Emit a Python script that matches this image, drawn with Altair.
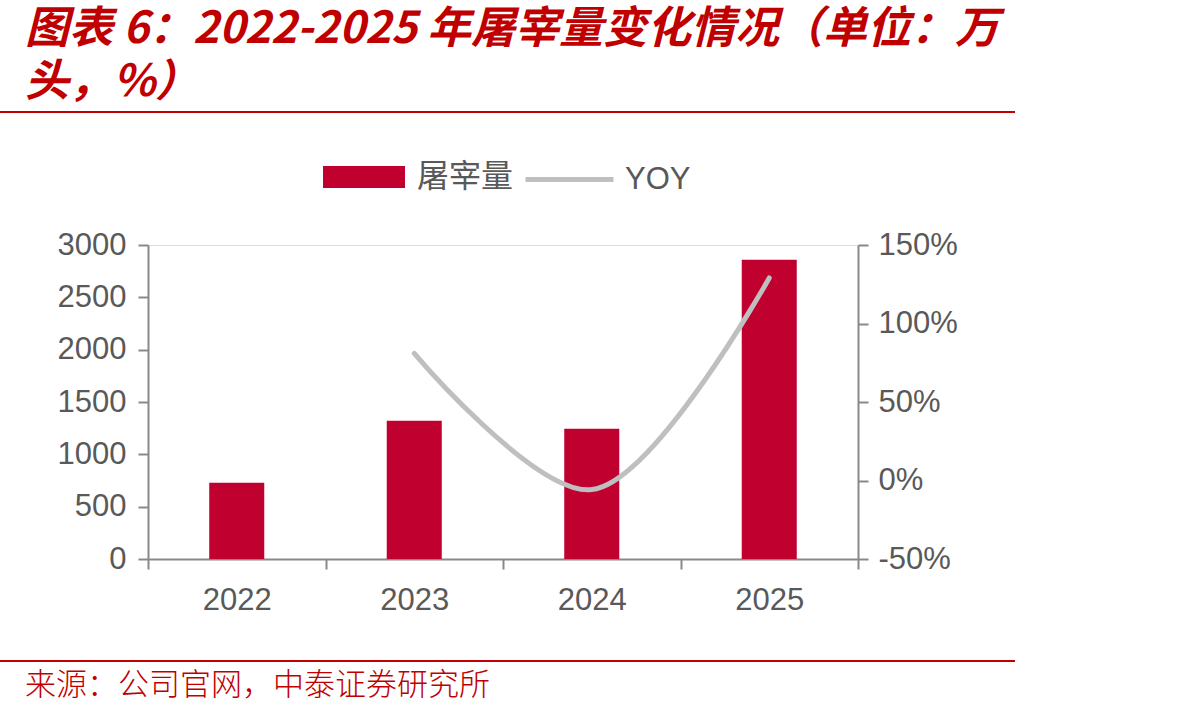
import altair as alt
import pandas as pd

years = ["2022", "2023", "2024", "2025"]
slaughter = [729, 1321, 1245, 2860]
yoy = [None, 0.81, -0.058, 1.29]

title_line1 = "图表 6：2022-2025 年屠宰量变化情况（单位：万"
title_line2 = "头，%）"
source_text = "来源：公司官网，中泰证券研究所"

RED = "#C00000"
BAR = "#C0002F"
GRAY_LINE = "#BFBFBF"
AXIS = "#898989"
LABEL = "#595959"
FONT = "Liberation Sans"
CJK = "Noto Sans CJK SC"
LFS = 31

df = pd.DataFrame({"year": years, "slaughter": slaughter, "yoy": yoy,
                   "s1": ["屠宰量"] * 4, "s2": ["YOY"] * 4})
df_line = df.dropna(subset=["yoy"])

xscale = alt.Scale(domain=years, paddingInner=0, paddingOuter=0)
xaxis = alt.Axis(title=None, tickBand="extent", tickSize=10, tickWidth=2, tickColor=AXIS,
                 domainColor=AXIS, domainWidth=2, labelFontSize=LFS, labelColor=LABEL,
                 labelFont=FONT, labelPadding=16, labelAngle=0)

bars = alt.Chart(df).mark_bar(width=alt.RelativeBandSize(0.31)).encode(
    x=alt.X("year:O", scale=xscale, axis=xaxis),
    y=alt.Y("slaughter:Q", scale=alt.Scale(domain=[0, 3000], nice=False),
            axis=alt.Axis(title=None, values=[0, 500, 1000, 1500, 2000, 2500, 3000], format="d",
                          tickSize=10, tickWidth=2, tickColor=AXIS, domainColor=AXIS,
                          domainWidth=2, labelFontSize=LFS, labelColor=LABEL, labelFont=FONT,
                          labelPadding=12, grid=False)),
    color=alt.Color("s1:N", scale=alt.Scale(domain=["屠宰量"], range=[BAR]),
                    legend=alt.Legend(orient="none", legendX=175, legendY=-109, title=None,
                                      symbolType="M-1,-0.27H1V0.27H-1Z", symbolSize=6724,
                                      symbolStrokeWidth=0, labelFontSize=32, labelColor=LABEL,
                                      labelFont=CJK, labelOffset=12, padding=0)),
)

line = alt.Chart(df_line).mark_line(interpolate="catmull-rom", strokeWidth=5, strokeCap="round").encode(
    x=alt.X("year:O", scale=xscale, axis=xaxis),
    y=alt.Y("yoy:Q", scale=alt.Scale(domain=[-0.5, 1.5], nice=False),
            axis=alt.Axis(title=None, orient="right", values=[-0.5, 0, 0.5, 1.0, 1.5],
                          labelExpr="(datum.value < 0 ? '-' : '') + format(abs(datum.value), '.0%')",
                          tickSize=10, tickWidth=2, tickColor=AXIS, domainColor=AXIS,
                          domainWidth=2, labelFontSize=LFS, labelColor=LABEL, labelFont=FONT,
                          labelPadding=10, grid=False)),
    stroke=alt.Stroke("s2:N", scale=alt.Scale(domain=["YOY"], range=[GRAY_LINE]),
                      legend=alt.Legend(orient="none", legendX=375, legendY=-112, title=None,
                                        symbolType="stroke", symbolSize=7744, symbolStrokeWidth=5,
                                        labelFontSize=LFS, labelColor=LABEL, labelFont=FONT,
                                        labelOffset=9, padding=0)),
)

main = alt.layer(bars, line).resolve_scale(y="independent")

one = pd.DataFrame({"t": [0]})
t1 = alt.Chart(pd.DataFrame({"t": [title_line1]})).mark_text(
    align="left", baseline="middle", font=CJK, fontSize=44, fontWeight="bold",
    fontStyle="italic", color=RED).encode(text="t:N", x=alt.value(-123), y=alt.value(-215))
t2 = alt.Chart(pd.DataFrame({"t": [title_line2]})).mark_text(
    align="left", baseline="middle", font=CJK, fontSize=44, fontWeight="bold",
    fontStyle="italic", color=RED).encode(text="t:N", x=alt.value(-123), y=alt.value(-162))
src = alt.Chart(pd.DataFrame({"t": [source_text]})).mark_text(
    align="left", baseline="middle", font=CJK, fontSize=31, fontWeight=300,
    color=RED).encode(text="t:N", x=alt.value(-123), y=alt.value(441))
rule_top = alt.Chart(one).mark_rule(color=RED, strokeWidth=2).encode(
    x=alt.value(-148), x2=alt.value(867), y=alt.value(-133))
rule_bot = alt.Chart(one).mark_rule(color=RED, strokeWidth=2).encode(
    x=alt.value(-148), x2=alt.value(867), y=alt.value(416))

chart = alt.layer(main, t1, t2, src, rule_top, rule_bot).properties(
    width=710, height=314,
    autosize=alt.AutoSizeParams(type="none"),
    padding={"left": 148, "top": 245, "right": 334, "bottom": 155},
).configure_view(stroke=None).configure(background="white")

chart.save("out.html", embed_options={"renderer": "svg", "actions": False})
